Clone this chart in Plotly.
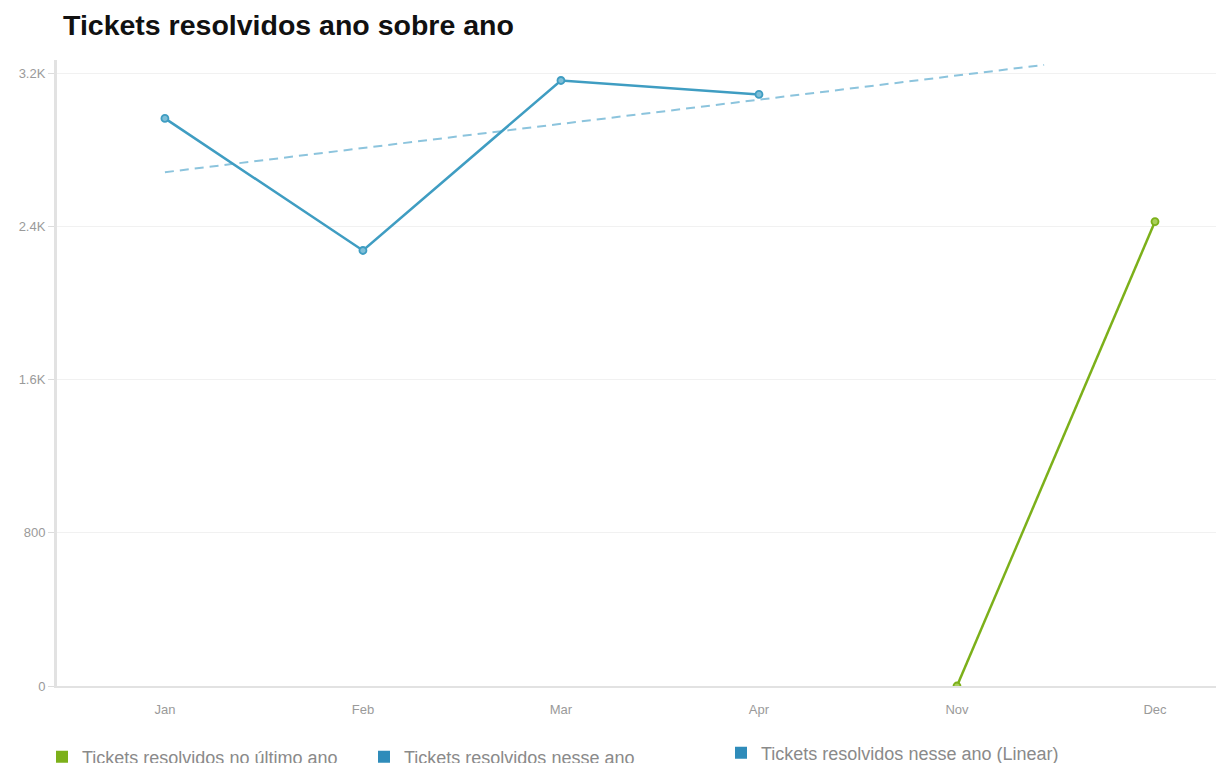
import numpy as np
import plotly.graph_objects as go

# Monthly data
MONTHS = ["Jan", "Feb", "Mar", "Apr", "Nov", "Dec"]
RESOLVED_LAST_YEAR = [None, None, None, None, 0, 2426]
RESOLVED_THIS_YEAR = [2965, 2275, 3163, 3090, None, None]

Y_TICKS = [0, 800, 1600, 2400, 3200]
Y_TICK_TEXT = ["0", "800", "1.6K", "2.4K", "3.2K"]

GREEN = "#7cb01a"
BLUE = "#3f9dc2"
TREND = "#8cc4dd"
LEGEND_BLUE = "#2f8cba"

W, H = 1216, 763
x_idx = list(range(len(MONTHS)))

# Linear trend of this year's values
pts = [(i, v) for i, v in zip(x_idx, RESOLVED_THIS_YEAR) if v is not None]
px_, py_ = np.array([p[0] for p in pts]), np.array([p[1] for p in pts])
slope, intercept = np.polyfit(px_, py_, 1)
trend_x = np.array([0.0, 4.44])
trend_y = intercept + slope * trend_x

fig = go.Figure()

fig.add_trace(go.Scatter(
    x=trend_x, y=trend_y, mode="lines",
    line=dict(color=TREND, width=2, dash="9px,6px"),
    showlegend=False, hoverinfo="skip",
))
fig.add_trace(go.Scatter(
    x=x_idx, y=RESOLVED_THIS_YEAR, mode="lines+markers",
    line=dict(color=BLUE, width=2.5),
    marker=dict(size=7, color="#7fbfd8", line=dict(color=BLUE, width=1.8)),
    showlegend=False,
))
fig.add_trace(go.Scatter(
    x=x_idx, y=RESOLVED_LAST_YEAR, mode="lines+markers",
    line=dict(color=GREEN, width=2.5),
    marker=dict(size=7, color="#a9cf5a", line=dict(color=GREEN, width=1.8)),
    showlegend=False,
))

# Legend entries with square keys
legend_items = [
    ("Tickets resolvidos no último ano", GREEN, "legend"),
    ("Tickets resolvidos nesse ano", LEGEND_BLUE, "legend2"),
    ("Tickets resolvidos nesse ano (Linear)", LEGEND_BLUE, "legend3"),
]
for name, color, lg in legend_items:
    fig.add_trace(go.Scatter(
        x=[None], y=[None], mode="markers", name=name,
        marker=dict(symbol="square", size=12, color=color),
        legend=lg,
    ))

legend_font = dict(family="Liberation Sans, Arial, sans-serif", size=18, color="#8a8a8a")
def lg_cfg(key_center_px, ypx):
    return dict(
        xref="container", yref="container",
        x=(key_center_px - 20) / W, y=1 - ypx / H,
        xanchor="left", yanchor="middle",
        font=legend_font, bgcolor="rgba(0,0,0,0)",
        borderwidth=0, itemclick=False,
    )

fig.update_layout(
    width=W, height=H,
    margin=dict(l=57, r=0, t=60, b=77, autoexpand=False),
    paper_bgcolor="white", plot_bgcolor="white",
    font=dict(family="Liberation Sans, Arial, sans-serif", color="#999999"),
    title=dict(
        text="Tickets resolvidos ano sobre ano",
        font=dict(family="Liberation Sans, Arial, sans-serif", size=28.5, color="#111111", weight="bold"),
        xref="container", yref="container",
        x=63 / W, xanchor="left", y=1 - 25 / H, yanchor="middle",
    ),
    xaxis=dict(
        range=[-0.545, 5.308],
        tickmode="array", tickvals=x_idx, ticktext=MONTHS,
        showgrid=False, zeroline=False,
        showline=True, linecolor="#e2e2e2", linewidth=2,
        ticks="outside", ticklen=10, tickcolor="rgba(0,0,0,0)",
        tickfont=dict(size=13, color="#9a9a9a"),
    ),
    yaxis=dict(
        range=[0, 3270],
        tickmode="array", tickvals=Y_TICKS, ticktext=Y_TICK_TEXT,
        showgrid=True, gridcolor="#f1f1f1", gridwidth=1,
        zeroline=False,
        showline=True, linecolor="#e2e2e2", linewidth=3,
        ticks="outside", ticklen=6, tickcolor="#dcdcdc",
        tickfont=dict(size=13, color="#9a9a9a"),
    ),
    legend=lg_cfg(62, 757),
    legend2=lg_cfg(384, 757),
    legend3=lg_cfg(741, 753),
)

fig.write_html("out.html")
